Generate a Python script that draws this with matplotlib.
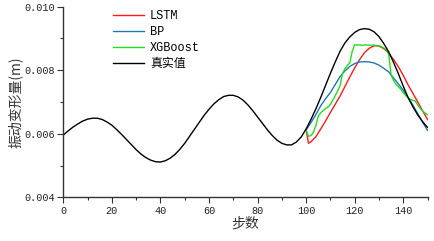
import numpy as np
import matplotlib
matplotlib.use("Agg")
import matplotlib.pyplot as plt
from matplotlib.ticker import MultipleLocator, FormatStrFormatter

# ---- data ----
true_steps = list(range(0, 151, 2))
true_vals = [0.00596, 0.00609, 0.00621, 0.00631, 0.00640, 0.00646, 0.00649, 0.00649,
             0.00645, 0.00637, 0.00627, 0.00613, 0.00598, 0.00582, 0.00566, 0.00550,
             0.00536, 0.00525, 0.00517, 0.00512, 0.00511, 0.00515, 0.00523, 0.00535,
             0.00551, 0.00570, 0.00592, 0.00614, 0.00636, 0.00658, 0.00677, 0.00694,
             0.00707, 0.00717, 0.00721, 0.00721, 0.00716, 0.00706, 0.00691, 0.00673,
             0.00653, 0.00633, 0.00613, 0.00595, 0.00580, 0.00570, 0.00565, 0.00565,
             0.00574, 0.00590, 0.00615, 0.00645, 0.00678, 0.00714, 0.00752, 0.00790,
             0.00826, 0.00860, 0.00886, 0.00905, 0.00919, 0.00928, 0.00931, 0.00929,
             0.00921, 0.00906, 0.00884, 0.00858, 0.00825, 0.00789, 0.00750, 0.00714,
             0.00685, 0.00659, 0.00638, 0.00620]

lstm_steps = [100, 101] + list(range(102, 151, 2))
lstm_vals = [0.00612, 0.00570, 0.00575, 0.00590, 0.00615, 0.00640, 0.00667, 0.00693,
             0.00719, 0.00749, 0.00779, 0.00807, 0.00833, 0.00855, 0.00869, 0.00877,
             0.00876, 0.00868, 0.00854, 0.00834, 0.00811, 0.00784, 0.00754, 0.00727,
             0.00700, 0.00672, 0.00645]

bp_steps = list(range(100, 151, 2))
bp_vals = [0.00612, 0.00635, 0.00660, 0.00688, 0.00710, 0.00730, 0.00755, 0.00780,
           0.00798, 0.00812, 0.00821, 0.00826, 0.00827, 0.00826, 0.00823, 0.00816,
           0.00806, 0.00795, 0.00776, 0.00757, 0.00737, 0.00714, 0.00690, 0.00663,
           0.00636, 0.00611]

xgb_steps = list(range(100, 151))
xgb_vals = [0.00612, 0.00592, 0.00594, 0.00605, 0.00625, 0.00655, 0.00666, 0.00673,
            0.00679, 0.00684, 0.00692, 0.00706, 0.00720, 0.00735, 0.00752, 0.00790,
            0.00805, 0.00815, 0.00823, 0.00860, 0.00880, 0.00879, 0.00880, 0.00878,
            0.00880, 0.00879, 0.00879, 0.00879, 0.00879, 0.00878, 0.00877, 0.00874,
            0.00870, 0.00864, 0.00852, 0.00785, 0.00768, 0.00756, 0.00748, 0.00740,
            0.00730, 0.00720, 0.00714, 0.00708, 0.00705, 0.00703, 0.00690, 0.00680,
            0.00672, 0.00665, 0.00660]

labels = ["LSTM", "BP", "XGBoost", "真实值"]
colors = ["#FF1A1A", "#1F77B4", "#22DD22", "#000000"]

# ---- figure ----
W, H = 434, 241
fig = plt.figure(figsize=(W / 100, H / 100), dpi=100)
ax = fig.add_axes([63.3 / W, 1 - 197.3 / H, 364.2 / W, 190.6 / H])

mono = ["Liberation Mono", "Noto Sans CJK SC"]
cjk = ["Noto Sans CJK SC", "DejaVu Sans"]

ax.plot(lstm_steps, lstm_vals, color=colors[0], lw=1.0, label=labels[0])
ax.plot(bp_steps, bp_vals, color=colors[1], lw=1.0, label=labels[1])
ax.plot(xgb_steps, xgb_vals, color=colors[2], lw=1.0, label=labels[2])
ax.plot(true_steps, true_vals, color=colors[3], lw=1.0, label=labels[3])

ax.set_xlim(0, 150)
ax.set_ylim(0.004, 0.010)
ax.xaxis.set_major_locator(MultipleLocator(20))
ax.xaxis.set_minor_locator(MultipleLocator(10))
ax.yaxis.set_major_locator(MultipleLocator(0.002))
ax.yaxis.set_minor_locator(MultipleLocator(0.001))
ax.yaxis.set_major_formatter(FormatStrFormatter("%.3f"))

for s in ["top", "right"]:
    ax.spines[s].set_visible(False)
for s in ["left", "bottom"]:
    ax.spines[s].set_linewidth(1.0)
    ax.spines[s].set_color("#333333")

ax.tick_params(which="major", direction="out", length=4, width=0.8, color="#333333", pad=2)
ax.tick_params(which="minor", direction="out", length=2, width=0.8, color="#333333")
for lab in ax.get_xticklabels() + ax.get_yticklabels():
    lab.set_family(mono)
    lab.set_fontsize(7.3)
    lab.set_color("#222222")

ax.set_ylabel("振动变形量(m)", family=cjk, fontsize=10, color="#333333")
ax.yaxis.set_label_coords(-0.111, 0.5)
ax.set_xlabel("步数", family=cjk, fontsize=10, color="#333333")
ax.xaxis.set_label_coords(0.499, -0.10)

leg = ax.legend(loc="upper left", bbox_to_anchor=(0.136, 0.982), frameon=False,
                borderaxespad=0, borderpad=0, handlelength=2.6, handletextpad=0.5,
                labelspacing=0.33, prop={"family": mono, "size": 8.6})

fig.savefig("out.png", dpi=100)
